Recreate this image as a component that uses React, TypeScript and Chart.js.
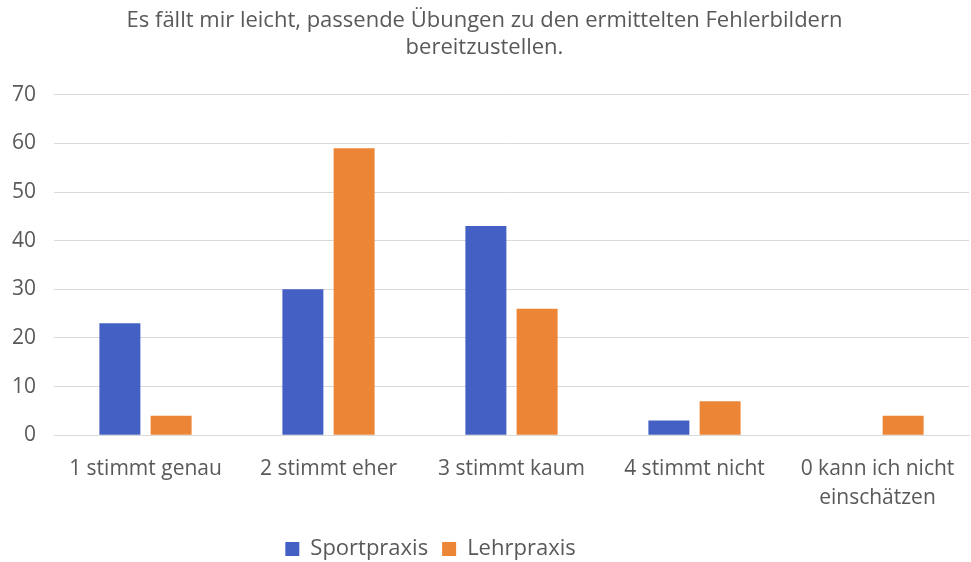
import React, { useEffect, useRef } from "react";
import { Chart, registerables } from "chart.js";

Chart.register(...registerables);

const categories: (string | string[])[] = [
  "1 stimmt genau",
  "2 stimmt eher",
  "3 stimmt kaum",
  "4 stimmt nicht",
  ["0 kann ich nicht", "einschätzen"],
];
const sportpraxis = [23, 30, 43, 3, 0];
const lehrpraxis = [4, 59, 26, 7, 4];
const titleLines = [
  "Es fällt mir leicht, passende Übungen zu den ermittelten Fehlerbildern",
  "bereitzustellen.",
];

const legendShift = {
  id: "legendShift",
  afterLayout(chart: any) {
    if (chart.legend) {
      chart.legend.left -= 54;
      chart.legend.right -= 54;
    }
  },
};

export default function App() {
  const ref = useRef<HTMLCanvasElement>(null);
  useEffect(() => {
    document.body.style.margin = "0";
    const font = "'Open Sans', 'Noto Sans', sans-serif";
    const chart = new Chart(ref.current!, {
      type: "bar",
      data: {
        labels: categories,
        datasets: [
          {
            label: "Sportpraxis",
            data: sportpraxis,
            backgroundColor: "#4560C4",
            categoryPercentage: 0.56,
            barPercentage: 0.8,
          },
          {
            label: "Lehrpraxis",
            data: lehrpraxis,
            backgroundColor: "#ED8536",
            categoryPercentage: 0.56,
            barPercentage: 0.8,
          },
        ],
      },
      plugins: [legendShift],
      options: {
        animation: false,
        responsive: false,
        layout: { padding: { left: 0, right: 2, top: 8, bottom: -8 } },
        plugins: {
          title: {
            display: true,
            text: titleLines,
            color: "#595959",
            font: { family: font, size: 22, weight: "normal" },
            padding: { top: 0, bottom: 34 },
            lineHeight: 1.45,
          },
          legend: {
            position: "bottom",
            labels: {
              color: "#595959",
              font: { family: font, size: 22 },
              boxWidth: 14,
              boxHeight: 14,
              padding: 14,
            },
          },
          tooltip: { enabled: false },
        },
        scales: {
          x: {
            grid: { display: false },
            border: { display: true, color: "#D9D9D9", width: 1 },
            ticks: {
              color: "#595959",
              font: { family: font, size: 21, lineHeight: 1.4 },
              maxRotation: 0,
              autoSkip: false,
              padding: 11,
            },
          },
          y: {
            min: 0,
            max: 70,
            afterFit: (scale: any) => {
              scale.width = 54;
            },
            ticks: {
              stepSize: 10,
              color: "#595959",
              font: { family: font, size: 21 },
              padding: 18,
            },
            grid: { color: "#D9D9D9", drawTicks: false },
            border: { display: false },
          },
        },
      },
    });
    return () => chart.destroy();
  }, []);
  return <canvas ref={ref} width={971} height={562} style={{ display: "block" }} />;
}
